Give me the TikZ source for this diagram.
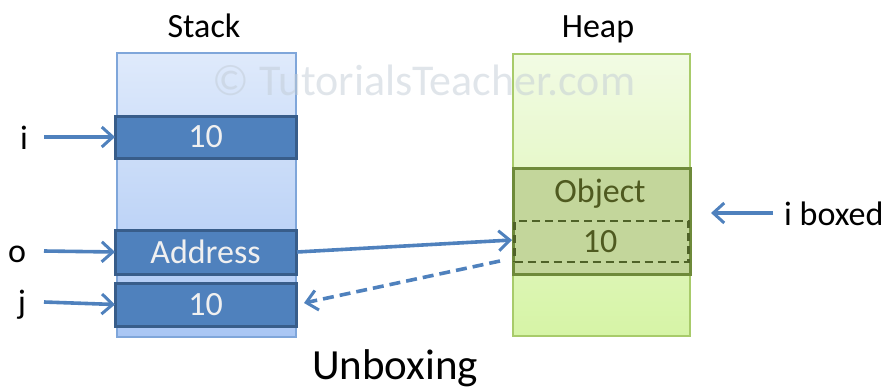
\documentclass[tikz,border=0pt]{standalone}
\usepackage{fontspec}
\setmainfont{Carlito}
\usetikzlibrary{arrows.meta}
\definecolor{boxblue}{HTML}{4F81BD}
\definecolor{boxblueedge}{HTML}{385D8A}
\definecolor{stacktop}{HTML}{DFEAFB}
\definecolor{stackbot}{HTML}{A9C6F4}
\definecolor{stackedge}{HTML}{7FA6DA}
\definecolor{heaptop}{HTML}{F2FBE4}
\definecolor{heapbot}{HTML}{D6F4A6}
\definecolor{heapedge}{HTML}{A8CB6A}
\definecolor{objfill}{HTML}{C3D69B}
\definecolor{objedge}{HTML}{6E8A3A}
\definecolor{objdash}{HTML}{4F6228}
\definecolor{objtext}{HTML}{4F5A20}
\definecolor{arrowblue}{HTML}{4F81BD}
\definecolor{wmark}{HTML}{C2CCD6}
\tikzset{
  column/.style={rectangle, inner sep=0pt, outer sep=0pt, line width=1.2pt},
  stackcol/.style={column, draw=stackedge, top color=stacktop, bottom color=stackbot},
  heapcol/.style={column, draw=heapedge, top color=heaptop, bottom color=heapbot},
  valbox/.style={rectangle, inner sep=0pt, outer sep=0pt, draw=boxblueedge, line width=3pt, fill=boxblue,
     text=white!94!black, font=\fontsize{34}{36}\selectfont, minimum width=181pt},
  objbox/.style={rectangle, inner sep=0pt, outer sep=0pt, draw=objedge, line width=3pt, fill=objfill, minimum width=177pt},
  dashbox/.style={rectangle, inner sep=0pt, outer sep=0pt, draw=objdash, line width=2.8pt, dash pattern=on 8pt off 5pt, minimum width=174pt},
  lbl/.style={inner sep=0pt, font=\fontsize{34}{36}\selectfont},
  objlbl/.style={inner sep=0pt, font=\fontsize{34}{36}\selectfont, text=objtext},
  ptr/.style={draw=arrowblue, line width=3.6pt, -{Straight Barb[length=11pt,width=20pt,line width=3pt]}},
  ptrdash/.style={ptr, dash pattern=on 11pt off 6pt},
}
\begin{document}
\begin{tikzpicture}[x=1pt,y=-1pt]
\useasboundingbox (0,0) rectangle (887,389);
% columns
\node[stackcol, minimum width=179pt, minimum height=284pt] (stack) at (206.5,195) {};
\node[heapcol, minimum width=177pt, minimum height=282pt] (heap) at (601.5,195) {};
% titles
\node[lbl, anchor=base] (stacklbl) at (204,37) {Stack};
\node[lbl, anchor=base] (heaplbl) at (598,37) {Heap};
\node[inner sep=0pt, anchor=base, font=\fontsize{43}{45}\selectfont] (title) at (395,379) {Unboxing};
% stack values
\node[valbox, minimum height=42pt] (ibox) at (205.5,137) {10};
\node[valbox, minimum height=44pt] (abox) at (205.5,252) {Address};
\node[valbox, minimum height=43pt] (jbox) at (205.5,304.5) {10};
% heap object
\node[objbox, minimum height=106pt] (obj) at (601.5,221) {};
\node[dashbox, minimum height=41pt] (val) at (601.5,241.5) {};
\node[objlbl] (objtxt) at (600,194) {Object};
\node[objlbl] (valtxt) at (600,242) {10};
% variable labels
\node[lbl, anchor=base] (ilbl) at (24,149) {i};
\node[lbl, anchor=base] (olbl) at (17,262) {o};
\node[lbl, anchor=base] (jlbl) at (22,313) {j};
\node[lbl, anchor=base west] (iboxed) at (784,225) {i boxed};
\coordinate (ia) at (44,137);
\coordinate (oa) at (44,251);
\coordinate (ja) at (44,302);
\coordinate (iba) at (773,213);
\coordinate (ibt) at (711,213);
\draw[ptr] (ia) -- (ibox.west);
\draw[ptr] (oa) -- (abox.west);
\draw[ptr] (ja) -- (jbox.west);
\draw[ptr] (iba) -- (ibt);
% pointers
\coordinate (as) at (297,252);
\coordinate (at) at (512,240);
\coordinate (ds) at (500,261);
\coordinate (dt) at (304,303);
\draw[ptr] (as) -- (at);
\draw[ptrdash] (ds) -- (dt);
% watermark
\node[inner sep=0pt, text=wmark, opacity=0.5, font=\fontsize{44}{46}\selectfont] (wm) at (424,80) {\textcopyright{} TutorialsTeacher.com};
\end{tikzpicture}
\end{document}
